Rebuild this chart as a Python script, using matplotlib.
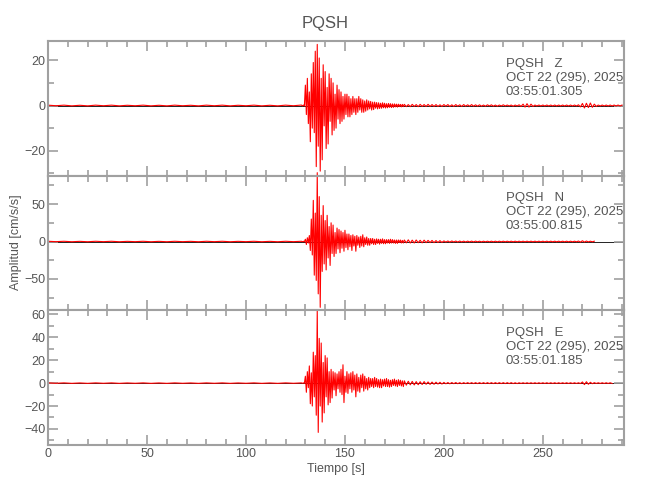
import matplotlib

matplotlib.use('Agg')
import matplotlib.pyplot as plt
import numpy as np

# Estacion y componentes
station = 'PQSH'
components = ['Z', 'N', 'E']
date_label = 'OCT 22 (295), 2025'
start_times = ['03:55:01.305', '03:55:00.815', '03:55:01.185']

# Tramos de tiempo (inicio, paso en s): ruido previo, fase fuerte, coda
seg_pre = (0, 4)
seg_burst = (128, 0.5)
seg_coda = (180, 1)

# Componente Z (cm/s/s)
z_pre = [0.15, -0.1, 0.15, -0.15, 0.1, -0.15, 0.15, -0.1, 0.15, -0.15, 0.1, -0.1, 0.15, -0.15, 0.1, -0.15,
         0.15, -0.1, 0.1, -0.15, 0.15, -0.1, 0.15, -0.15, 0.1, -0.1, 0.15, -0.15, 0.1, -0.15, 0.15, -0.1]
z_burst = [0.2, -0.2, 0.2, -0.2, 9, -4, 12, -8,
           6, -16, 14, -10, 19, -12, 24, -27,
           27, -18, 21, -29, 12, -24, 18, -9,
           15, -19, 8, -17, 14, -7, 12, -13,
           10, -11, 5, -10, 9, -6, 7, -8,
           6, -7, 4, -6, 5, -4, 5, -5,
           4, -5, 3, -4, 4, -3, 3, -4,
           3, -3, 4, -2, 3, -3, 2.5, -3,
           2, -2.5, 2.5, -2, 2, -1.5, 1.8, -2,
           1.5, -1.8, 1.5, -1.2, 1.3, -1.5, 1.2, -1.3,
           1.0, -1.2, 1.2, -1.0, 1.0, -1.1, 0.8, -1.0,
           0.9, -0.8, 0.8, -0.9, 0.7, -0.8, 0.7, -0.6,
           0.6, -0.7, 0.6, -0.5, 0.5, -0.6, 0.5, -0.5]
z_coda = [0.5, -0.5, 0.4, -0.5, 0.5, -0.4, 0.4, -0.5, 0.5, -0.4, 0.4, -0.4, 0.5, -0.4, 0.4, -0.4,
          0.4, -0.4, 0.3, -0.4, 0.4, -0.3, 0.4, -0.4, 0.3, -0.4, 0.4, -0.3, 0.3, -0.4, 0.4, -0.3,
          0.3, -0.3, 0.4, -0.3, 0.3, -0.3, 0.3, -0.3, 0.2, -0.3, 0.3, -0.2, 0.3, -0.3, 0.2, -0.3,
          0.2, -0.2, 0.3, -0.2, 0.2, -0.2, 0.2, -0.3, 0.2, -0.2, 0.3, -0.4, 0.6, -0.7, 0.8, -0.7,
          0.6, -0.4, 0.2, -0.2, 0.2, -0.2, 0.2, -0.2, 0.2, -0.2, 0.2, -0.2, 0.2, -0.2, 0.2, -0.2,
          0.2, -0.2, 0.2, -0.2, 0.2, -0.2, 0.2, -0.2, 0.3, -0.6, 0.9, -1.1, 1.0, -0.9, 1.1, -0.8,
          0.6, -0.4, 0.2, -0.2, 0.2, -0.2, 0.2, -0.2, 0.2, -0.2, 0.2, -0.2, 0.2, -0.2, 0.2]

# Componente N (cm/s/s)
n_pre = [0.3, -0.2, 0.3, -0.3, 0.2, -0.3, 0.3, -0.2, 0.3, -0.3, 0.2, -0.2, 0.3, -0.3, 0.2, -0.3,
         0.3, -0.2, 0.2, -0.3, 0.3, -0.2, 0.3, -0.3, 0.2, -0.2, 0.3, -0.3, 0.2, -0.3, 0.3, -0.2]
n_burst = [0.3, -0.3, 0.3, -0.3, 3, -4, 5, -2,
           8, -12, 30, -18, 55, -45, 38, -52,
           92, -70, 60, -88, 35, -40, 48, -30,
           28, -38, 35, -22, 20, -32, 25, -16,
           22, -20, 12, -16, 18, -10, 16, -15,
           14, -9, 12, -13, 15, -8, 10, -11,
           10, -7, 8, -12, 9, -6, 7, -13,
           8, -5, 6, -8, 7, -6, 9, -7,
           5, -4, 6, -5, 4, -5, 4, -3,
           4, -4, 3, -4, 3.5, -2.5, 3, -3.5,
           3, -2.5, 3.5, -3, 2.5, -3, 2.5, -2,
           2.5, -2.5, 3, -2, 2.5, -2, 2, -2.5,
           2, -2.5, 2, -1.5, 2, -2, 1.5, -2]
n_coda = [2, -1.8, 2.2, -2, 1.8, -2, 2, -1.6, 1.6, -1.8, 1.8, -1.5, 1.5, -1.4, 1.4, -1.5,
          1.2, -1.3, 1.1, -1.2, 0.8, -0.8, 0.7, -0.8, 0.7, -0.6, 0.6, -0.7, 0.6, -0.6, 0.5, -0.6,
          0.5, -0.5, 0.5, -0.5, 0.5, -0.4, 0.4, -0.5, 0.4, -0.4, 0.4, -0.4, 0.4, -0.4, 0.4, -0.4,
          0.4, -0.4, 0.4, -0.4, 0.4, -0.4, 0.4, -0.4, 0.4, -0.4, 0.4, -0.4, 0.4, -0.4, 0.4, -0.4,
          0.4, -0.4, 0.4, -0.4, 0.4, -0.4, 0.4, -0.4, 0.4, -0.4, 0.4, -0.4, 0.4, -0.4, 0.4, -0.4,
          0.4, -0.4, 0.4, -0.4, 0.4, -0.4, 0.4, -0.4, 0.6, -0.8, 1.0, -0.8, 0.6, -0.5, 0.4, -0.4,
          0.4]

# Componente E (cm/s/s)
e_pre = [0.2, -0.15, 0.2, -0.2, 0.15, -0.2, 0.2, -0.15, 0.2, -0.2, 0.15, -0.15, 0.2, -0.2, 0.15, -0.2,
         0.2, -0.15, 0.15, -0.2, 0.2, -0.15, 0.2, -0.2, 0.15, -0.15, 0.2, -0.2, 0.15, -0.2, 0.2, -0.15]
e_burst = [0.2, -0.2, 0.2, -0.2, 6, -8, 10, -4,
           15, -18, 9, -20, 27, -12, 24, -28,
           64, -43, 39, -20, 35, -34, 18, -26,
           24, -12, 22, -19, 10, -17, 12, -13,
           10, -6, 9, -11, 8, -5, 10, -8,
           12, -10, 16, -17, 6, -8, 10, -9,
           8, -5, 9, -8, 10, -6, 7, -12,
           8, -7, 5, -8, 7, -4, 8, -7,
           6, -5, 4, -6, 5, -4, 4, -3,
           4, -4, 5, -3, 4, -3.5, 3, -4,
           3.5, -4, 3, -2.5, 3.5, -3, 4, -3,
           3, -3.5, 2.5, -3, 3, -2, 3.5, -2.5,
           2.5, -3, 3, -2, 2.5, -2.5, 2, -3]
e_coda = [2, -1.8, 1.6, -1.5, 1.5, -1.6, 1.3, -1.4, 1.2, -1.2, 1.3, -1.0, 1.0, -1.1, 0.9, -1.0,
          0.8, -0.8, 0.7, -0.8, 0.6, -0.6, 0.5, -0.6, 0.5, -0.5, 0.5, -0.5, 0.4, -0.5, 0.4, -0.4,
          0.4, -0.4, 0.4, -0.4, 0.4, -0.4, 0.4, -0.4, 0.4, -0.4, 0.4, -0.4, 0.4, -0.4, 0.4, -0.4,
          0.4, -0.4, 0.4, -0.4, 0.4, -0.4, 0.4, -0.4, 0.3, -0.4, 0.3, -0.3, 0.3, -0.3, 0.3, -0.3,
          0.3, -0.3, 0.3, -0.3, 0.3, -0.3, 0.3, -0.3, 0.3, -0.3, 0.3, -0.3, 0.3, -0.3, 0.3, -0.3,
          0.3, -0.3, 0.3, -0.3, 0.3, -0.3, 0.3, -0.3, 0.3, -0.4, 1.0, -1.3, 1.2, -1.0, 0.7, -0.5,
          0.4, -0.3, 0.3, -0.3, 0.3, -0.3, 0.3, -0.3, 0.3, -0.3]

traces = [(z_pre, z_burst, z_coda), (n_pre, n_burst, n_coda), (e_pre, e_burst, e_coda)]
y_limits = [(-31, 28.5), (-92, 88), (-54, 63.5)]
y_major = [20, 50, 20]
y_minor = [10, 25, 10]

plt.rcParams['font.family'] = ['Liberation Sans', 'DejaVu Sans']
text_color = '#555555'
axis_color = '#a0a0a0'


def build_trace(segments):
    """Une los tramos de la senal con sus tiempos de muestreo."""
    times, values = [], []
    for (t0, dt), vals in zip((seg_pre, seg_burst, seg_coda), segments):
        times.append(t0 + dt * np.arange(len(vals)))
        values.append(np.asarray(vals, dtype=float))
    return np.concatenate(times), np.concatenate(values)


fig, axes = plt.subplots(3, 1, figsize=(6.5, 5), dpi=100, sharex=True)
fig.subplots_adjust(left=0.074, right=0.96, top=0.918, bottom=0.11, hspace=0)

for ax, comp, start, data, ylim, ymaj, ymin in zip(axes, components, start_times, traces,
                                                   y_limits, y_major, y_minor):
    t, signal = build_trace(data)
    ax.axhline(0, color='black', lw=0.6, zorder=1)
    ax.plot(t, signal, color='red', lw=0.8, zorder=2, clip_on=False)

    ax.set_xlim(0, 291)
    ax.set_ylim(*ylim)
    ax.xaxis.set_major_locator(plt.MultipleLocator(50))
    ax.xaxis.set_minor_locator(plt.MultipleLocator(10))
    ax.yaxis.set_major_locator(plt.MultipleLocator(ymaj))
    ax.yaxis.set_minor_locator(plt.MultipleLocator(ymin))
    ax.tick_params(which='both', direction='in', top=True, right=True, color=axis_color,
                   labelcolor=text_color, labelsize=9, width=1.2)
    ax.tick_params(which='major', length=7, pad=2)
    ax.tick_params(which='minor', length=4)
    for sp in ax.spines.values():
        sp.set_color(axis_color)
        sp.set_linewidth(1.5)

    ax.text(0.795, 0.875, f'{station}   {comp}\n{date_label}\n{start}', transform=ax.transAxes,
            ha='left', va='top', fontsize=9.5, color=text_color, linespacing=1.22)

axes[-1].set_xlabel('Tiempo [s]', color=text_color, fontsize=9, labelpad=2)
fig.text(0.025, 0.515, 'Amplitud [cm/s/s]', rotation=90, ha='center', va='center',
         color=text_color, fontsize=9)
fig.suptitle(station, y=0.968, color=text_color, fontsize=12)

plt.savefig('out.png', dpi=100)
